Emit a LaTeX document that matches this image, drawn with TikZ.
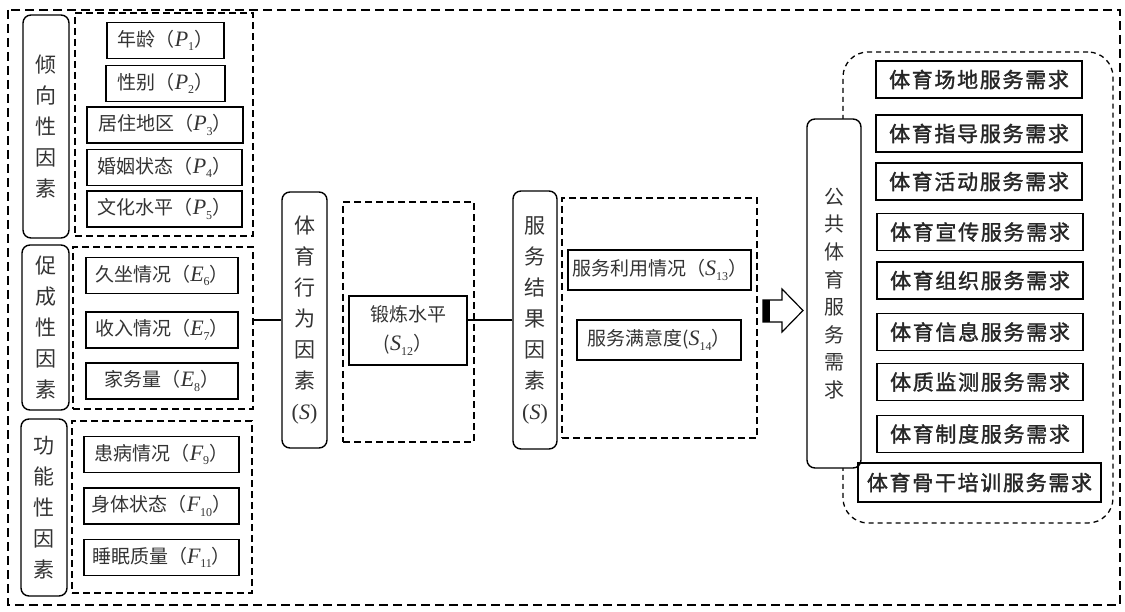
\documentclass[tikz,border=0pt]{standalone}
\usepackage{fontspec}
\setmainfont{Liberation Serif}
\newfontfamily\cjk{Noto Sans CJK SC}
\newfontfamily\cjkheavy[FakeBold=1.6,LetterSpace=8]{Noto Sans CJK SC}
\newcommand{\fac}[2]{{\rmfamily\fontsize{22}{22}\selectfont\itshape #1}\raisebox{-4.5pt}{\rmfamily\fontsize{12}{12}\selectfont #2}}
\newcommand{\facS}{{\rmfamily\fontsize{22}{22}\selectfont(\textit{S})}}

\begin{document}
\begin{tikzpicture}[x=1pt,y=-1pt,
    facbox/.style={draw, line width=1.5pt, inner sep=0pt, minimum height=36,
        text=black!80, font=\cjk\fontsize{19}{22}\selectfont},
    grpbox/.style={draw, line width=1.4pt, rounded corners=8pt, fill=white, inner sep=0pt,
        align=center, text=black!80, font=\cjk\fontsize{21}{31}\selectfont},
    dashbox/.style={draw, line width=1.5pt, dash pattern=on 7pt off 4pt, inner sep=0pt},
    needbox/.style={draw, line width=1.6pt, inner sep=0pt, minimum width=206, minimum height=37,
        text=black!85, font=\cjkheavy\fontsize{21}{24}\selectfont}]
    \useasboundingbox (0,0) rectangle (1125,612);

    \draw[line width=1.6pt, dash pattern=on 9pt off 5pt] (8,10) rectangle (1120,605);

    \node[grpbox, minimum width=46, minimum height=223] (pgrp) at (46,126.5) {倾\\向\\性\\因\\素};
    \node[dashbox, minimum width=178, minimum height=223] (pset) at (164,124.5) {};
    \node[facbox, minimum width=117] (p1) at (165.5,40.5) {年龄（\fac{P}{1}）};
    \node[facbox, minimum width=119] (p2) at (165.5,83.5) {性别（\fac{P}{2}）};
    \node[facbox, minimum width=156] (p3) at (165,125) {居住地区（\fac{P}{3}）};
    \node[facbox, minimum width=155] (p4) at (164.5,167.5) {婚姻状态（\fac{P}{4}）};
    \node[facbox, minimum width=155] (p5) at (164.5,209) {文化水平（\fac{P}{5}）};

    \node[grpbox, minimum width=47, minimum height=165] (egrp) at (45.5,327.5) {促\\成\\性\\因\\素};
    \node[dashbox, minimum width=180, minimum height=162] (eset) at (163,328) {};
    \node[facbox, minimum width=152] (e6) at (162,275.5) {久坐情况（\fac{E}{6}）};
    \node[facbox, minimum width=152] (e7) at (162,330) {收入情况（\fac{E}{7}）};
    \node[facbox, minimum width=152] (e8) at (162,381) {家务量（\fac{E}{8}）};

    \node[grpbox, minimum width=46, minimum height=177] (fgrp) at (44,507.5) {功\\能\\性\\因\\素};
    \node[dashbox, minimum width=180, minimum height=172] (fset) at (162,507) {};
    \node[facbox, minimum width=155] (f9) at (161.5,454.5) {患病情况（\fac{F}{9}）};
    \node[facbox, minimum width=155] (f10) at (161.5,506) {身体状态（\fac{F}{10}）};
    \node[facbox, minimum width=155] (f11) at (161.5,557.5) {睡眠质量（\fac{F}{11}）};

    \node[grpbox, minimum width=45, minimum height=256] (beh) at (304.5,320) {体\\育\\行\\为\\因\\素\\\facS};
    \node[dashbox, minimum width=131, minimum height=240] (train) at (408.5,322) {};
    \node[facbox, minimum width=118, minimum height=69, align=center,
        font=\cjk\fontsize{19}{29}\selectfont] (s12) at (408,330.5) {锻炼水平\\(\fac{S}{12}）};

    \node[grpbox, minimum width=44, minimum height=258] (res) at (535,320) {服\\务\\结\\果\\因\\素\\\facS};
    \node[dashbox, minimum width=195, minimum height=240] (outc) at (659.5,318) {};
    \node[facbox, minimum width=183, minimum height=40] (s13) at (659.5,270) {服务利用情况（\fac{S}{13}）};
    \node[facbox, minimum width=164, minimum height=40] (s14) at (659,340) {服务满意度(\fac{S}{14}）};

    \draw[line width=1.4pt] (beh.west) -- (beh.west -| eset.east);
    \draw[line width=1.4pt] (res.west) -- (res.west -| s12.east);

    \draw[line width=1.2pt, line join=miter] (763,300) -- (782,300) -- (782,289) -- (803,310.5)
        -- (782,332) -- (782,322) -- (763,322) -- cycle;
    \fill (763,300) rectangle (770,322);

    \node[draw, line width=1.3pt, dash pattern=on 5pt off 4pt, rounded corners=25pt,
        minimum width=270, minimum height=471] (needs) at (978,287.5) {};
    \node[grpbox, minimum width=54, minimum height=349, font=\cjk\fontsize{20}{27.6}\selectfont]
        (pub) at (834,293.5) {公\\共\\体\\育\\服\\务\\需\\求};

    \node[needbox] (n1) at (979,79.5) {体育场地服务需求};
    \node[needbox] (n2) at (979,133.5) {体育指导服务需求};
    \node[needbox] (n3) at (979,181.5) {体育活动服务需求};
    \node[needbox] (n4) at (980,232) {体育宣传服务需求};
    \node[needbox] (n5) at (980,280.5) {体育组织服务需求};
    \node[needbox] (n6) at (980,332) {体育信息服务需求};
    \node[needbox] (n7) at (980,382) {体质监测服务需求};
    \node[needbox] (n8) at (980,434) {体育制度服务需求};
    \node[needbox, minimum width=243, minimum height=39] (n9) at (979.5,482.5) {体育骨干培训服务需求};
\end{tikzpicture}
\end{document}
